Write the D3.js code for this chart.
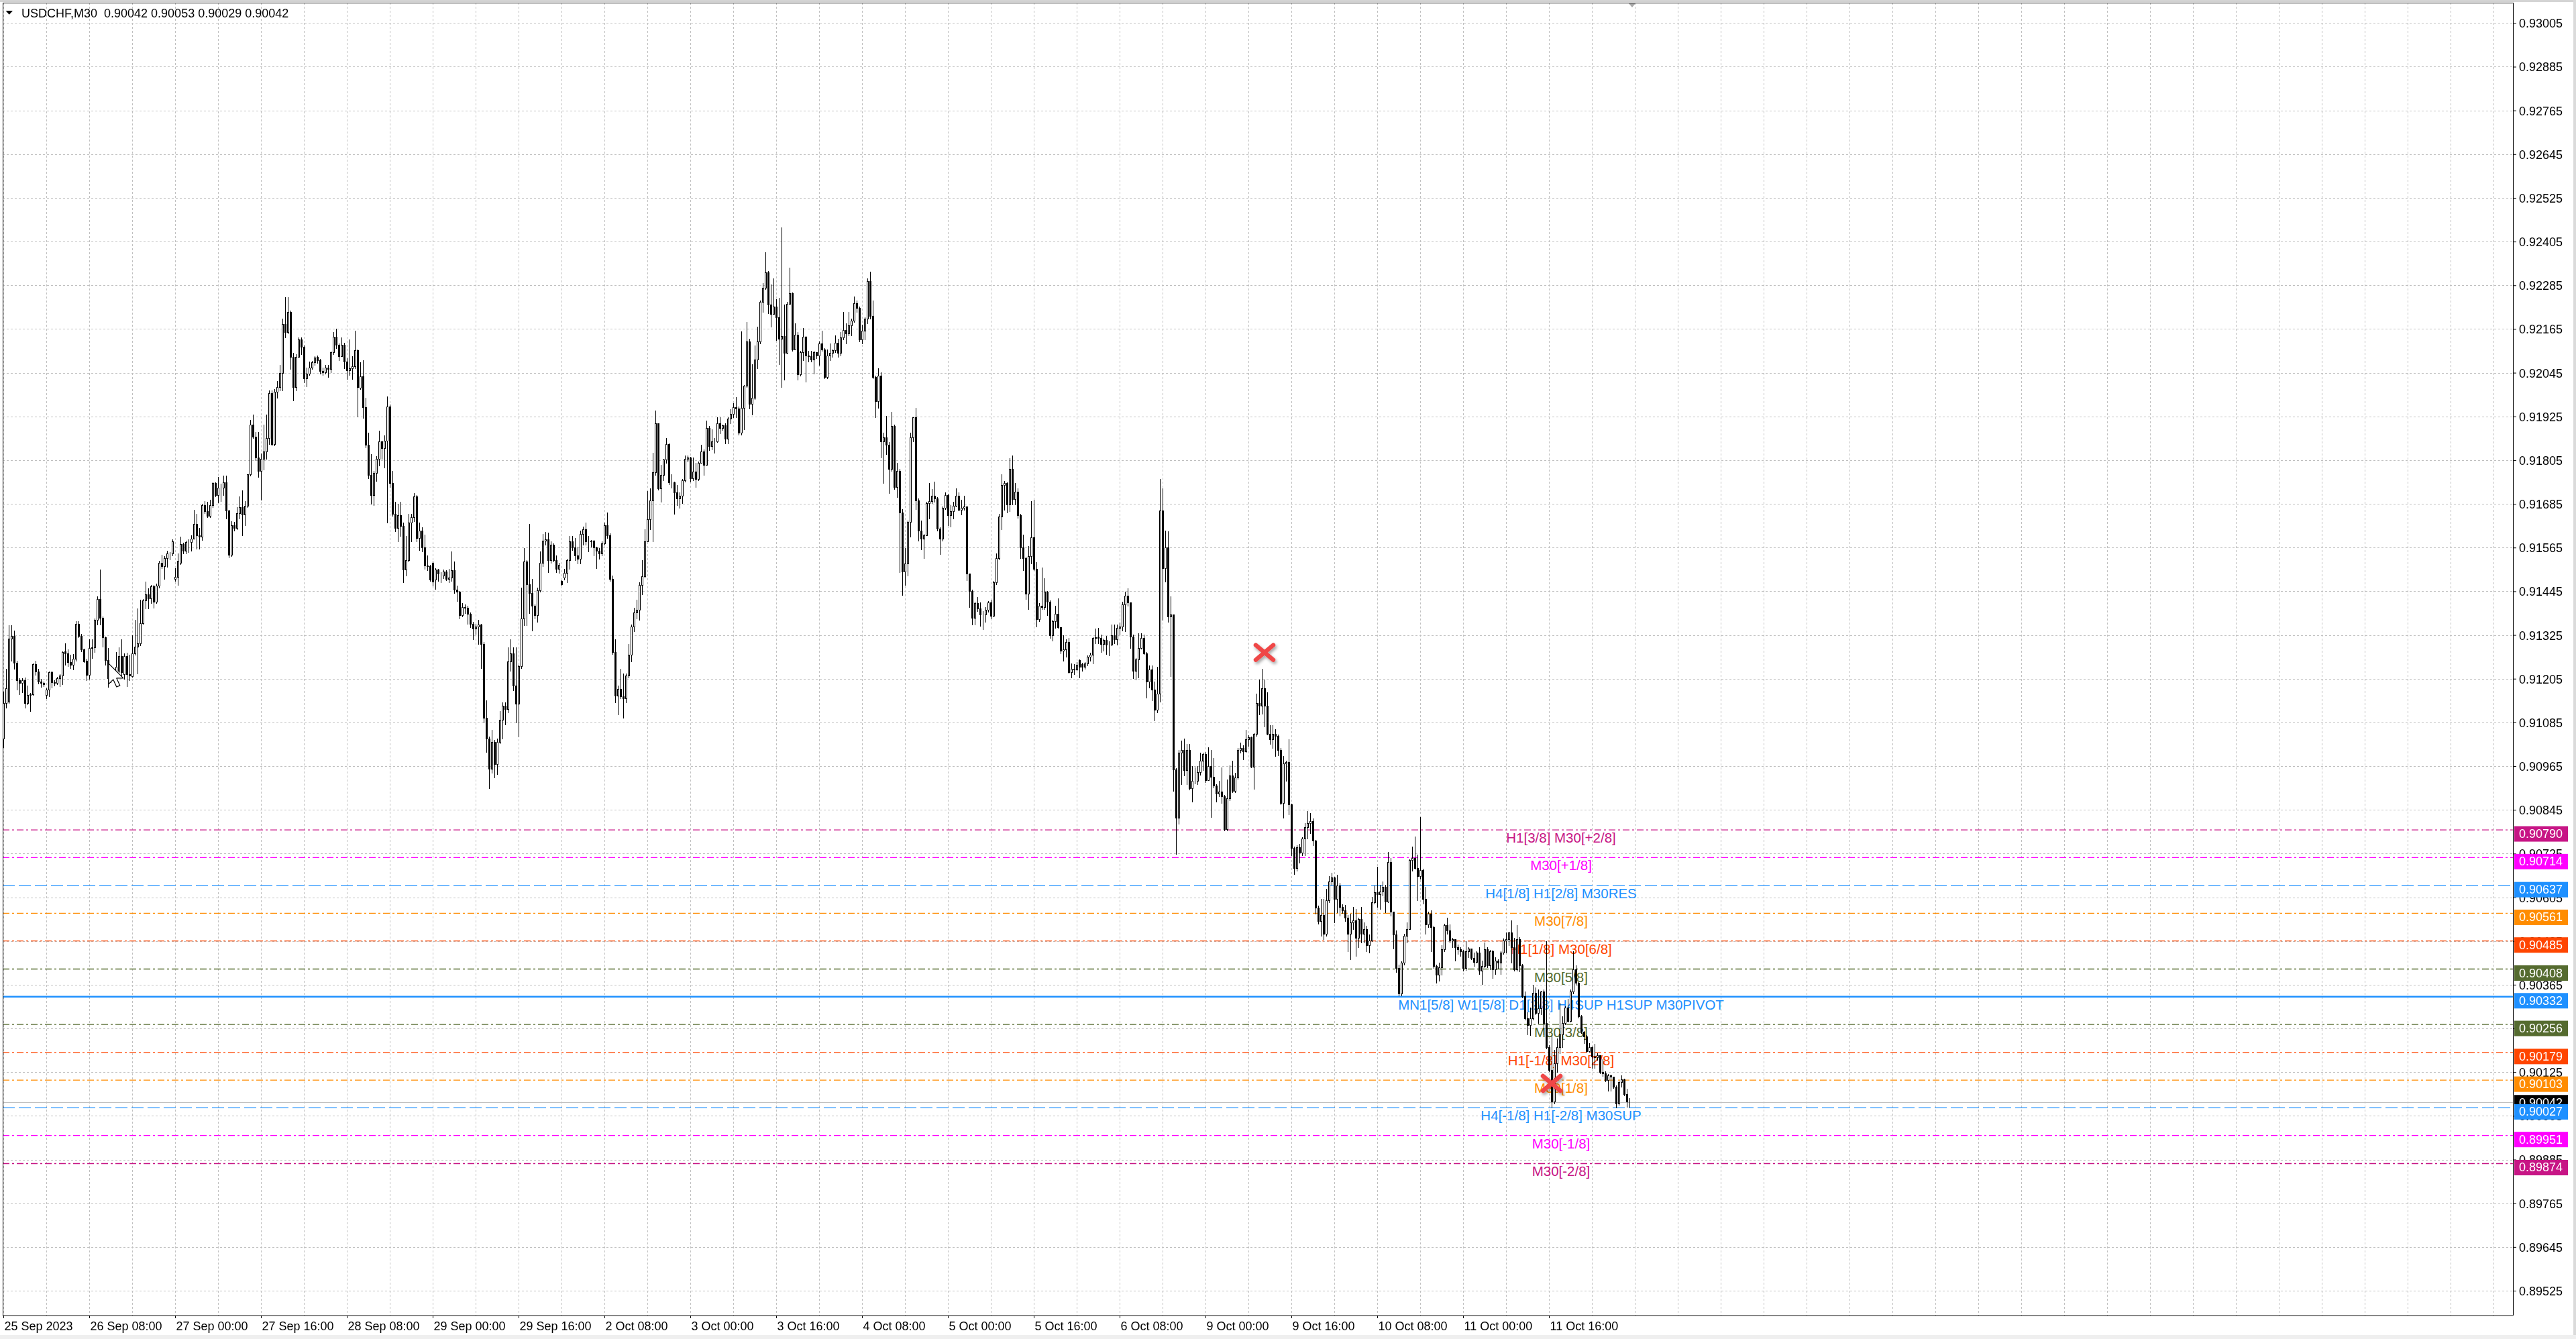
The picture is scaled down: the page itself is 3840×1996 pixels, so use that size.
<!DOCTYPE html>
<html lang="en">
<head>
  <meta charset="UTF-8">
  <title>USDCHF,M30</title>
  <script src="https://d3js.org/d3.v7.min.js"></script>
  <style>
    html, body { margin: 0; padding: 0; background: #fff; }
    svg { display: block; }
    text { font-family: "Liberation Sans", Arial, sans-serif; }
  </style>
</head>
<body>
  <svg id="chart" width="3840" height="1996"></svg>

  <script>
    // ---- data: M30 bars, prices in points above 0.90000 ----
    const opens = [
      1040,1138,1142,1315,1323,1249,1200,1193,1200,1138,1160,1162,1245,1224,1197,1193,1160,1175,1222,1195,
      1194,1207,1214,1280,1274,1250,1244,1260,1356,1323,1285,1255,1215,1289,1291,1367,1423,1372,1318,1256,
      1207,1215,1222,1226,1268,1218,1268,1218,1212,1274,1292,1302,1357,1420,1436,1426,1458,1417,1461,1524,
      1514,1536,1549,1549,1478,1484,1524,1574,1557,1580,1580,1590,1629,1598,1594,1681,1664,1652,1681,1742,
      1709,1730,1730,1744,1667,1545,1627,1619,1660,1676,1656,1680,1767,1902,1870,1812,1775,1808,1828,1865,
      1989,1849,1993,2005,2045,2178,2157,2211,2089,2005,2089,2137,2116,2030,2042,2059,2073,2089,2079,2050,
      2046,2059,2056,2101,2143,2122,2091,2122,2075,2052,2057,2063,2106,2003,2035,1951,1847,1765,1709,1770,
      1809,1856,1838,1859,1953,1742,1657,1618,1653,1624,1505,1530,1634,1648,1706,1591,1612,1565,1516,1513,
      1524,1477,1505,1493,1489,1499,1479,1483,1502,1450,1443,1380,1401,1399,1383,1356,1342,1349,1354,1300,
      1098,1041,957,1032,971,1032,1093,1131,1121,1253,1274,1187,1136,1239,1370,1527,1464,1441,1405,1380,
      1448,1524,1584,1587,1530,1573,1530,1507,1474,1483,1495,1530,1582,1565,1544,1535,1603,1615,1582,1582,
      1584,1565,1556,1549,1577,1627,1599,1479,1279,1159,1176,1157,1152,1214,1270,1349,1387,1394,1462,1486,
      1582,1643,1695,1772,1906,1728,1764,1807,1849,1744,1744,1716,1699,1708,1750,1809,1812,1756,1773,1753,
      1798,1829,1792,1894,1843,1857,1857,1906,1894,1900,1864,1919,1932,1950,1947,1881,1949,2009,2130,1959,
      1976,2082,2130,2240,2278,2320,2232,2206,2227,2198,2139,2145,2099,2234,2263,2109,2150,2040,2101,2143,
      2092,2090,2082,2101,2093,2126,2109,2033,2092,2099,2107,2128,2099,2141,2162,2152,2175,2187,2236,2223,
      2136,2160,2194,2297,2200,2033,1966,2037,1857,1868,1847,1781,1898,1731,1775,1661,1499,1522,1636,1868,
      1923,1695,1612,1590,1598,1687,1693,1708,1700,1617,1590,1674,1710,1653,1665,1680,1708,1668,1674,1677,
      1494,1446,1372,1412,1398,1382,1381,1395,1415,1378,1469,1536,1651,1736,1742,1683,1781,1698,1719,1653,
      1566,1536,1439,1541,1593,1506,1369,1406,1401,1444,1416,1324,1363,1384,1346,1281,1286,1306,1223,1233,
      1230,1256,1245,1238,1247,1266,1271,1316,1320,1316,1301,1311,1298,1298,1324,1313,1345,1348,1409,1433,
      1414,1320,1226,1258,1290,1316,1275,1198,1230,1175,1119,1164,1666,1509,1566,1376,1382,955,824,1002,
      1010,954,1010,905,925,925,948,980,999,927,965,935,912,890,895,882,792,877,940,897,
      933,1010,1015,1005,1038,1045,963,1053,1138,1130,1179,1130,1053,1038,1053,1048,1010,863,972,976,
      860,740,685,742,728,767,797,809,815,760,577,540,556,505,597,649,659,600,637,578,
      569,548,505,536,541,493,545,505,517,474,486,591,618,614,621,634,594,701,566,502,
      410,340,425,499,517,707,712,686,664,680,600,530,560,523,416,392,413,462,529,514,
      487,490,468,462,456,410,456,465,438,428,453,404,416,462,419,456,407,431,425,453,
      487,490,508,468,407,490,419,333,272,254,272,343,287,300,346,260,193,131,45,150,
      193,229,260,303,266,346,407,370,278,235,223,183,193,168,165,171,125,122,103,116,
      113,85,39,97,105,64,42
    ];
    const highs = [
      1170,1233,1352,1352,1338,1255,1207,1207,1208,1187,1165,1247,1255,1232,1205,1197,1178,1225,1227,1200,
      1210,1218,1280,1302,1285,1270,1273,1362,1362,1328,1288,1260,1314,1314,1371,1431,1504,1375,1320,1290,
      1240,1232,1278,1291,1314,1274,1277,1270,1325,1366,1397,1422,1423,1471,1454,1463,1463,1466,1528,1545,
      1541,1557,1553,1588,1508,1549,1594,1578,1584,1587,1598,1668,1658,1619,1686,1693,1691,1697,1744,1744,
      1759,1740,1763,1763,1668,1637,1635,1676,1705,1722,1693,1767,1915,1931,1882,1882,1824,1902,1931,1997,
      1997,2000,2022,2067,2194,2252,2252,2215,2100,2096,2141,2141,2120,2059,2075,2078,2091,2093,2083,2059,
      2067,2067,2104,2157,2165,2125,2141,2127,2085,2137,2091,2160,2108,2073,2080,1977,1881,1822,1775,1815,
      1885,1859,1873,1979,1958,1775,1690,1685,1690,1634,1596,1657,1657,1714,1709,1634,1620,1601,1544,1518,
      1527,1509,1507,1497,1505,1503,1507,1554,1527,1460,1446,1413,1408,1405,1387,1361,1356,1366,1356,1305,
      1145,1046,1065,1037,1041,1117,1140,1140,1291,1314,1291,1291,1244,1455,1563,1530,1629,1479,1408,1455,
      1554,1603,1608,1606,1582,1577,1544,1524,1476,1507,1535,1596,1596,1591,1568,1612,1622,1634,1596,1586,
      1586,1568,1563,1582,1634,1662,1605,1488,1314,1187,1232,1220,1220,1300,1354,1399,1422,1469,1530,1615,
      1721,1728,1826,1941,1906,1792,1809,1866,1851,1767,1746,1737,1716,1754,1818,1818,1814,1813,1797,1801,
      1847,1835,1913,1898,1889,1866,1923,1922,1902,1906,1923,1944,1961,1978,1953,2158,2012,2185,2139,2069,
      2119,2172,2243,2291,2375,2325,2287,2303,2246,2251,2443,2232,2240,2333,2265,2181,2156,2105,2168,2145,
      2105,2105,2105,2102,2130,2160,2113,2109,2126,2109,2147,2139,2156,2212,2181,2212,2194,2255,2243,2226,
      2177,2198,2304,2322,2244,2037,2058,2046,1881,1927,1855,1938,1902,1797,1780,1670,1564,1640,1881,1923,
      1949,1699,1640,1602,1691,1742,1725,1746,1704,1621,1678,1716,1712,1682,1691,1727,1716,1697,1708,1678,
      1494,1450,1416,1429,1415,1391,1401,1418,1421,1474,1548,1657,1766,1747,1745,1811,1818,1743,1727,1657,
      1600,1540,1569,1692,1697,1525,1412,1511,1481,1446,1420,1367,1405,1426,1346,1324,1314,1316,1247,1245,
      1251,1258,1248,1250,1269,1277,1318,1343,1345,1326,1315,1322,1307,1354,1354,1354,1360,1416,1444,1454,
      1414,1326,1262,1330,1330,1326,1278,1241,1241,1198,1238,1754,1728,1612,1609,1431,1382,960,1010,1036,
      1040,1025,1025,965,962,965,1002,1002,1003,1017,1010,987,916,925,961,886,929,967,980,946,
      1015,1030,1023,1065,1050,1047,1055,1164,1202,1233,1203,1168,1078,1078,1066,1051,1014,993,980,1038,
      862,745,748,752,770,809,842,837,822,762,582,600,600,628,664,673,662,667,645,585,
      584,557,560,578,572,548,578,536,526,502,606,637,689,640,649,640,729,713,566,514,
      420,430,505,536,710,744,772,722,825,683,634,566,570,526,420,425,474,533,548,530,
      493,490,475,468,460,484,468,465,453,456,468,431,480,468,461,461,441,434,456,492,
      508,511,542,493,529,496,422,346,290,303,364,358,352,349,352,484,199,223,186,217,
      315,278,306,327,352,456,419,373,281,238,226,205,196,202,177,171,160,128,119,118,
      113,88,100,116,107,80,53
    ];
    const lows = [
      1017,1126,1138,1255,1232,1175,1163,1167,1126,1134,1117,1160,1215,1191,1183,1185,1152,1157,1180,1187,
      1190,1185,1190,1244,1240,1234,1231,1255,1318,1280,1250,1200,1204,1262,1279,1353,1353,1292,1243,1182,
      1195,1200,1220,1222,1212,1205,1185,1200,1210,1270,1220,1296,1355,1397,1397,1413,1399,1412,1455,1508,
      1479,1512,1533,1543,1474,1463,1520,1549,1549,1553,1557,1590,1561,1561,1586,1660,1648,1648,1676,1705,
      1689,1693,1709,1644,1537,1541,1611,1615,1644,1598,1627,1676,1763,1866,1804,1759,1697,1779,1808,1849,
      1845,1845,1976,1997,1997,2141,2152,2055,1968,1997,2089,2096,2018,2007,2038,2055,2067,2071,2042,2038,
      2042,2034,2046,2096,2113,2080,2091,2057,2028,2038,2028,2057,1925,2000,1920,1840,1756,1685,1681,1747,
      1791,1809,1784,1634,1732,1652,1610,1582,1596,1469,1488,1526,1582,1638,1582,1558,1554,1507,1502,1474,
      1460,1452,1474,1470,1480,1476,1469,1474,1441,1418,1370,1375,1385,1356,1347,1314,1328,1300,1234,1084,
      1004,905,947,933,943,1028,1041,1079,1112,1227,1173,1084,1046,1234,1352,1352,1385,1338,1370,1361,
      1443,1514,1573,1497,1524,1526,1497,1495,1462,1477,1469,1507,1558,1530,1521,1521,1573,1573,1554,1568,
      1544,1509,1535,1544,1573,1591,1474,1272,1140,1107,1152,1098,1140,1208,1253,1336,1370,1366,1436,1483,
      1582,1615,1582,1765,1723,1690,1750,1798,1739,1729,1657,1682,1674,1687,1746,1801,1746,1750,1731,1750,
      1797,1764,1792,1832,1835,1826,1854,1879,1888,1851,1851,1906,1923,1923,1874,1874,1889,2006,1947,1930,
      1972,2058,2126,2211,2274,2209,2172,2206,2135,2069,2006,2025,2097,2234,2105,2109,2026,2037,2080,2020,
      2075,2075,2042,2084,2067,2105,2029,2029,2080,2088,2101,2088,2092,2136,2126,2147,2147,2184,2211,2130,
      2126,2136,2181,2194,2029,1922,1949,1813,1742,1822,1714,1775,1725,1704,1497,1435,1463,1488,1594,1856,
      1670,1584,1560,1536,1598,1644,1687,1691,1611,1547,1584,1670,1626,1623,1645,1678,1666,1655,1668,1475,
      1401,1353,1353,1391,1350,1340,1361,1389,1370,1375,1465,1533,1615,1668,1662,1664,1683,1683,1647,1536,
      1503,1424,1396,1521,1503,1348,1363,1396,1396,1380,1316,1309,1345,1345,1275,1254,1266,1221,1208,1217,
      1228,1208,1226,1233,1241,1254,1247,1303,1303,1278,1281,1273,1269,1296,1303,1299,1326,1337,1336,1405,
      1290,1206,1203,1208,1288,1273,1153,1181,1145,1090,1112,1142,1367,1472,1361,1211,897,724,807,916,
      939,916,901,867,917,916,942,954,920,927,826,907,867,882,863,788,788,871,893,893,
      931,1002,984,1003,1020,961,902,1048,1106,1108,1074,1052,1025,1014,993,995,860,824,924,833,
      720,668,678,700,720,720,767,781,747,560,533,500,490,499,591,640,536,563,554,562,
      540,456,435,517,444,468,480,480,456,453,484,588,578,572,609,563,591,554,465,400,
      336,336,420,480,517,677,683,597,655,588,505,523,456,410,370,376,392,456,505,481,
      468,431,450,444,403,405,441,435,416,425,395,367,413,413,407,383,395,410,395,450,
      453,474,425,404,404,401,330,269,229,226,269,284,260,284,229,189,127,27,39,125,
      177,193,257,263,263,340,364,275,232,205,180,180,137,137,159,122,115,100,73,73,
      82,27,36,85,61,30,29
    ];
    const closes = [
      1138,1179,1315,1323,1249,1200,1193,1200,1138,1160,1162,1245,1224,1197,1193,1190,1175,1222,1195,1194,
      1207,1214,1278,1274,1250,1244,1260,1356,1323,1285,1253,1215,1289,1291,1367,1423,1372,1318,1256,1207,
      1215,1222,1237,1268,1222,1268,1218,1214,1274,1292,1302,1357,1420,1436,1426,1458,1417,1461,1524,1514,
      1536,1549,1549,1582,1484,1528,1574,1557,1580,1580,1590,1629,1598,1594,1681,1664,1652,1681,1742,1709,
      1730,1730,1744,1667,1545,1627,1619,1660,1676,1656,1680,1767,1902,1870,1812,1775,1808,1828,1865,1989,
      1849,1993,2005,2045,2178,2157,2211,2089,2005,2089,2137,2116,2030,2042,2059,2073,2087,2079,2050,2046,
      2059,2056,2101,2143,2122,2091,2122,2075,2052,2057,2063,2106,2005,2035,1951,1847,1765,1709,1770,1809,
      1856,1838,1859,1953,1742,1657,1618,1653,1624,1505,1530,1634,1648,1706,1591,1612,1565,1516,1513,1477,
      1471,1505,1493,1493,1499,1479,1483,1502,1450,1443,1380,1401,1399,1383,1356,1342,1349,1354,1300,1098,
      1041,957,1032,971,1032,1093,1131,1121,1253,1274,1187,1136,1239,1370,1527,1464,1441,1405,1380,1448,
      1524,1584,1587,1530,1573,1530,1507,1518,1465,1495,1530,1582,1565,1544,1535,1603,1615,1582,1582,1584,
      1565,1556,1549,1577,1627,1599,1479,1279,1159,1176,1157,1152,1214,1270,1349,1387,1394,1462,1486,1582,
      1643,1695,1772,1906,1728,1764,1807,1849,1744,1744,1716,1699,1708,1750,1809,1812,1756,1773,1753,1798,
      1829,1792,1894,1843,1857,1857,1906,1894,1900,1864,1919,1932,1950,1947,1881,1949,2009,2130,1959,1976,
      2082,2130,2240,2278,2320,2232,2206,2227,2198,2139,2145,2099,2234,2263,2109,2150,2040,2101,2143,2092,
      2090,2082,2101,2093,2126,2109,2033,2092,2099,2107,2128,2099,2141,2162,2152,2175,2187,2236,2223,2136,
      2160,2194,2297,2200,2033,1966,2037,1857,1868,1847,1781,1898,1731,1775,1661,1499,1522,1636,1868,1923,
      1695,1612,1590,1598,1687,1693,1708,1700,1617,1590,1674,1710,1653,1665,1680,1708,1668,1674,1677,1494,
      1446,1372,1412,1398,1382,1381,1395,1415,1378,1469,1536,1651,1736,1742,1683,1781,1698,1719,1653,1566,
      1536,1439,1541,1593,1506,1369,1406,1401,1444,1416,1324,1363,1384,1346,1281,1286,1306,1223,1233,1230,
      1243,1238,1238,1247,1266,1271,1316,1318,1316,1301,1311,1298,1298,1324,1313,1345,1348,1409,1433,1414,
      1320,1226,1258,1290,1316,1275,1198,1230,1175,1119,1164,1666,1509,1566,1376,1382,955,824,1002,1010,
      954,1010,905,925,925,948,980,999,927,965,935,912,890,895,882,792,877,940,897,933,
      1010,1015,1005,1038,1045,963,1053,1138,1130,1179,1130,1053,1038,1053,1048,1010,863,972,976,860,
      740,685,742,728,767,797,809,815,760,577,540,556,505,597,649,659,600,637,578,569,
      548,505,536,541,493,545,505,517,474,486,591,618,614,621,634,594,701,566,502,410,
      340,425,499,517,707,712,686,664,680,600,530,560,523,416,392,413,462,529,514,487,
      490,468,462,456,410,456,465,438,428,453,404,416,462,419,456,407,431,425,453,487,
      490,508,468,407,490,419,333,272,254,272,343,287,300,346,260,193,131,45,150,193,
      229,260,303,266,346,407,370,278,235,223,183,193,168,165,171,125,122,103,116,113,
      85,39,97,105,64,45,42
    ];

    // time scale labels, one every 32 bars (16 hours)
    const timeLabels = ["25 Sep 2023", "26 Sep 08:00", "27 Sep 00:00", "27 Sep 16:00", "28 Sep 08:00",
      "29 Sep 00:00", "29 Sep 16:00", "2 Oct 08:00", "3 Oct 00:00", "3 Oct 16:00", "4 Oct 08:00",
      "5 Oct 00:00", "5 Oct 16:00", "6 Oct 08:00", "9 Oct 00:00", "9 Oct 16:00", "10 Oct 08:00",
      "11 Oct 00:00", "11 Oct 16:00"];
    const labelEvery = 32;

    const priceTicks = [0.93005, 0.92885, 0.92765, 0.92645, 0.92525, 0.92405, 0.92285, 0.92165,
      0.92045, 0.91925, 0.91805, 0.91685, 0.91565, 0.91445, 0.91325, 0.91205, 0.91085, 0.90965,
      0.90845, 0.90725, 0.90605, 0.90485, 0.90365, 0.90245, 0.90125, 0.90005, 0.89885, 0.89765,
      0.89645, 0.89525];

    // Murrey math levels
    const levelPrices = [0.90790, 0.90714, 0.90637, 0.90561, 0.90485, 0.90408, 0.90332,
      0.90256, 0.90179, 0.90103, 0.90027, 0.89951, 0.89874];
    const levelNames = ["H1[3/8] M30[+2/8]", "M30[+1/8]", "H4[1/8] H1[2/8] M30RES", "M30[7/8]",
      "H1[1/8] M30[6/8]", "M30[5/8]", "MN1[5/8] W1[5/8] D1[2/8] H4SUP H1SUP M30PIVOT", "M30[3/8]",
      "H1[-1/8] M30[2/8]", "M30[1/8]", "H4[-1/8] H1[-2/8] M30SUP", "M30[-1/8]", "M30[-2/8]"];
    const levelKinds = ["dashdot", "dashdot", "dash", "dashdot", "dashdot", "dashdot", "solid",
      "dashdot", "dashdot", "dashdot", "dash", "dashdot", "dashdot"];
    const levelLabelBar = 580.5;

    const symbol = "USDCHF,M30";
    const lastOHLC = [0.90042, 0.90053, 0.90029, 0.90042];
    const bid = 0.90042;

    // red cross signals
    const signalBars = [470, 577];
    const signalPrices = [0.91277, 0.90094];

    // ---- styles ----
    const levelColor = ["#C71585", "#FF00FF", "#1E90FF", "#FF8C00", "#FF4500", "#556B2F", "#1E90FF",
      "#556B2F", "#FF4500", "#FF8C00", "#1E90FF", "#FF00FF", "#C71585"];
    const dashes = { dashdot: "10,4,3,4", dash: "18,6", solid: null };
    const font = '"Liberation Sans", Arial, sans-serif';

    const W = 3840, H = 1996;
    const plot = { left: 4, top: 4, right: 3746, bottom: 1961 };

    const base = 0.9, pt = 0.00001;
    const price = v => +(base + v * pt).toFixed(5);

    // 4 px per bar
    const x = d3.scaleLinear().domain([0, 1]).range([5, 9]);
    const y = d3.scaleLinear().domain([0.93005, 0.89525]).range([34.3, 1924]);
    const fmt = d3.format(".5f");

    const svg = d3.select("#chart");

    // window chrome
    svg.append("rect").attr("width", W).attr("height", H).attr("fill", "#fff");
    svg.append("rect").attr("x", 0).attr("y", 0).attr("width", W).attr("height", 3).attr("fill", "#d4d4d4");
    svg.append("rect").attr("x", 3836).attr("y", 0).attr("width", 4).attr("height", H).attr("fill", "#dadada");
    svg.append("rect").attr("x", 0).attr("y", 1990).attr("width", W).attr("height", 6).attr("fill", "#efefef");

    const defs = svg.append("defs");
    defs.append("clipPath").attr("id", "plotClip").append("rect")
      .attr("x", plot.left).attr("y", plot.top)
      .attr("width", plot.right - plot.left).attr("height", plot.bottom - plot.top);
    const shadow = defs.append("filter").attr("id", "shadow")
      .attr("x", "-50%").attr("y", "-50%").attr("width", "200%").attr("height", "200%");
    shadow.append("feDropShadow").attr("dx", 2).attr("dy", 3).attr("stdDeviation", 2)
      .attr("flood-color", "#000").attr("flood-opacity", 0.35);

    const chart = svg.append("g").attr("clip-path", "url(#plotClip)");

    // grid
    const grid = chart.append("g")
      .attr("stroke", "#c0c0c0").attr("stroke-width", 1)
      .attr("stroke-dasharray", "3,3").attr("shape-rendering", "crispEdges");
    grid.selectAll("line.h").data(priceTicks).join("line").attr("class", "h")
      .attr("x1", plot.left).attr("x2", plot.right)
      .attr("y1", d => Math.round(y(d)) + 0.5).attr("y2", d => Math.round(y(d)) + 0.5);
    grid.selectAll("line.v").data(d3.range(0, x.invert(plot.right), 16)).join("line").attr("class", "v")
      .attr("x1", d => Math.round(x(d)) + 0.5).attr("x2", d => Math.round(x(d)) + 0.5)
      .attr("y1", plot.top).attr("y2", plot.bottom);

    // level lines
    chart.append("g").selectAll("line").data(levelPrices).join("line")
      .attr("x1", plot.left).attr("x2", plot.right)
      .attr("y1", d => y(d)).attr("y2", d => y(d))
      .attr("stroke", (d, i) => levelColor[i])
      .attr("stroke-width", (d, i) => levelKinds[i] === "solid" ? 2.4 : 1.3)
      .attr("stroke-dasharray", (d, i) => dashes[levelKinds[i]]);

    // level labels
    chart.append("g").selectAll("text").data(levelPrices).join("text")
      .attr("x", x(levelLabelBar)).attr("y", d => y(d) + 19)
      .attr("text-anchor", "middle")
      .attr("font-family", font).attr("font-size", 20.5)
      .attr("fill", (d, i) => levelColor[i])
      .text((d, i) => levelNames[i]);

    // bid line
    chart.append("line")
      .attr("x1", plot.left).attr("x2", plot.right)
      .attr("y1", Math.round(y(bid)) + 0.5).attr("y2", Math.round(y(bid)) + 0.5)
      .attr("stroke", "#c0c0c0").attr("stroke-width", 1).attr("shape-rendering", "crispEdges");

    // candles
    const n = Math.min(opens.length, highs.length, lows.length, closes.length);
    const candles = d3.range(n).map(i => ({
      i, o: price(opens[i]), h: price(highs[i]), l: price(lows[i]), c: price(closes[i])
    }));

    const cg = chart.append("g").attr("shape-rendering", "crispEdges");
    cg.selectAll("line").data(candles).join("line")
      .attr("x1", d => Math.round(x(d.i)) + 0.5).attr("x2", d => Math.round(x(d.i)) + 0.5)
      .attr("y1", d => Math.round(y(d.h))).attr("y2", d => Math.round(y(d.l)) + 1)
      .attr("stroke", "#000").attr("stroke-width", 1);
    cg.selectAll("rect").data(candles).join("rect")
      .attr("x", d => Math.round(x(d.i)) - 0.5)
      .attr("y", d => Math.round(y(Math.max(d.o, d.c))) + 0.5)
      .attr("width", 2)
      .attr("height", d => Math.max(0, Math.round(y(Math.min(d.o, d.c))) - Math.round(y(Math.max(d.o, d.c)))))
      .attr("fill", d => d.c >= d.o ? "#fff" : "#000")
      .attr("stroke", "#000").attr("stroke-width", 1);

    // signal crosses
    const crosses = chart.append("g").attr("filter", "url(#shadow)")
      .selectAll("g").data(signalBars).join("g")
      .attr("transform", (d, i) => `translate(${x(d)},${y(signalPrices[i])})`);
    crosses.append("line").attr("x1", -13).attr("y1", -11).attr("x2", 13).attr("y2", 11);
    crosses.append("line").attr("x1", -13).attr("y1", 11).attr("x2", 13).attr("y2", -11);
    crosses.selectAll("line").attr("stroke", "#ef4646").attr("stroke-width", 6.5).attr("stroke-linecap", "round");

    // mouse pointer left in the screenshot
    chart.append("polygon")
      .attr("transform", `translate(${x(39.2)},${y(0.91247)})`)
      .attr("points", "0,0 0,31 7,24 12,35 17,33 12,22 22,22")
      .attr("fill", "#fff").attr("stroke", "#000").attr("stroke-width", 1.2)
      .attr("stroke-linejoin", "round");

    // chart shift marker
    svg.append("path")
      .attr("transform", `translate(${x(n)},${plot.top})`)
      .attr("d", "M-6,0 L6,0 L0,7 Z").attr("fill", "#a8a8a8");

    // frame
    const frame = svg.append("g").attr("stroke", "#000").attr("shape-rendering", "crispEdges");
    frame.append("line").attr("x1", plot.left).attr("x2", plot.right).attr("y1", plot.top + 0.5).attr("y2", plot.top + 0.5).attr("stroke-width", 1.5);
    frame.append("line").attr("x1", plot.left + 0.5).attr("x2", plot.left + 0.5).attr("y1", plot.top).attr("y2", plot.bottom).attr("stroke-width", 1.5);

    // price axis
    const yAxis = d3.axisRight(y).tickValues(priceTicks).tickFormat(fmt).tickSize(5).tickPadding(4);
    const gy = svg.append("g").attr("transform", `translate(${plot.right},0)`).call(yAxis)
      .attr("font-family", font).attr("font-size", 18);
    gy.select(".domain").attr("d", `M0.5,${plot.top}V${plot.bottom}`).attr("stroke", "#000");
    gy.selectAll(".tick line").attr("stroke", "#000");
    gy.selectAll(".tick text").attr("fill", "#000").attr("dy", "0.36em");

    // time axis
    const labelBars = timeLabels.map((d, i) => i * labelEvery);
    const xAxis = d3.axisBottom(x).tickValues(labelBars)
      .tickFormat((d, i) => timeLabels[i]).tickSize(4).tickPadding(5);
    const gx = svg.append("g").attr("transform", `translate(0,${plot.bottom})`).call(xAxis)
      .attr("font-family", font).attr("font-size", 18);
    gx.select(".domain").attr("d", `M${plot.left},0.5H${plot.right}`).attr("stroke", "#000");
    gx.selectAll(".tick line").attr("stroke", "#000");
    gx.selectAll(".tick text").attr("fill", "#000").attr("text-anchor", "start").attr("x", 1);

    // price boxes on the axis
    const boxes = svg.append("g").attr("font-family", font).attr("font-size", 18);
    const bidY = y(bid);
    boxes.append("rect").attr("x", plot.right + 2).attr("y", bidY - 11).attr("width", 80).attr("height", 23).attr("fill", "#000");
    boxes.append("text").attr("x", plot.right + 9).attr("y", bidY + 7).attr("fill", "#fff").text(fmt(bid));

    const lb = boxes.selectAll("g.lvl").data(levelPrices).join("g").attr("class", "lvl");
    lb.append("rect").attr("x", plot.right + 2).attr("y", d => y(d) - 5.5)
      .attr("width", 80).attr("height", 23).attr("fill", (d, i) => levelColor[i]);
    lb.append("text").attr("x", plot.right + 9).attr("y", d => y(d) + 12)
      .attr("fill", "#fff").text(d => fmt(d));

    // title
    svg.append("path").attr("d", "M8.5,16 L19,16 L13.75,21.8 Z").attr("fill", "#000");
    svg.append("text").attr("x", 32).attr("y", 26)
      .attr("font-family", font).attr("font-size", 18).attr("fill", "#000")
      .attr("xml:space", "preserve")
      .text(symbol + "  " + lastOHLC.map(fmt).join(" "));
  </script>
</body>
</html>
